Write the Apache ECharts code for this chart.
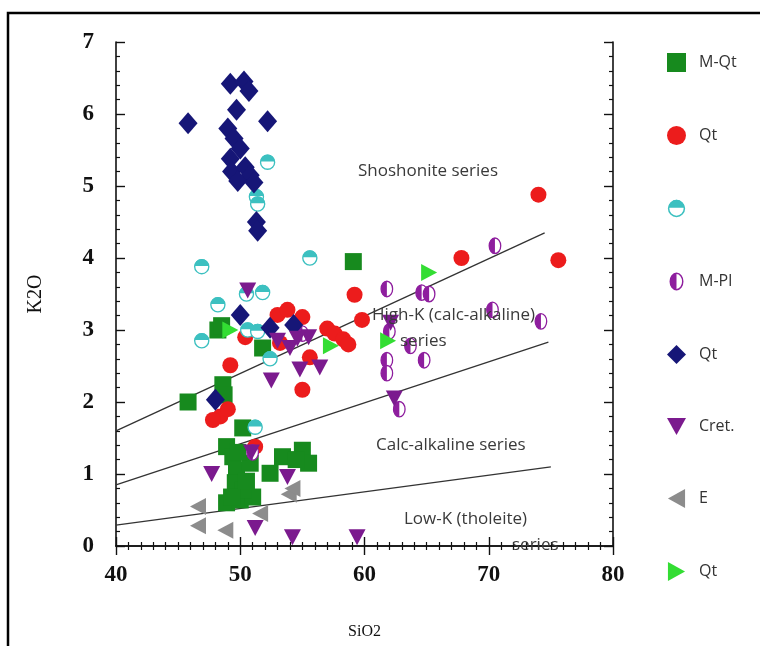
<!DOCTYPE html>
<html>
<head>
<meta charset="utf-8">
<script src="https://cdn.jsdelivr.net/npm/echarts@6/dist/echarts.min.js"></script>
<style>html,body{margin:0;padding:0;background:#fff}#c{width:760px;height:646px}</style>
</head>
<body>
<div id="c"></div>
<script>
// ---- data (SiO2, K2O) ----
const mQt = [[59.1,3.95],[48.2,3.0],[48.5,3.06],[51.8,2.75],[48.6,2.24],[48.7,2.1],[45.8,2.0],[50.2,1.64],[48.9,1.38],[49.4,1.24],[49.7,1.06],[49.6,0.88],[48.9,0.6],[50.0,0.64],[51.0,0.68],[50.2,0.78],[52.4,1.01],[53.4,1.24],[55.0,1.33],[55.5,1.15],[54.5,1.2],[50.8,1.15],[49.3,0.68],[49.8,1.3],[50.5,0.9]];
const qtRed = [[49.2,2.51],[50.4,2.9],[53.0,3.21],[53.8,3.28],[55.0,3.18],[53.2,2.82],[55.6,2.62],[55.0,2.17],[59.2,3.49],[59.8,3.14],[67.8,4.0],[74.0,4.88],[75.6,3.97],[57.0,3.02],[57.6,2.95],[58.3,2.87],[58.7,2.8],[48.4,1.8],[49.0,1.9],[47.8,1.75],[51.2,1.38]];
const cyanHalf = [[52.2,5.33],[51.3,4.85],[51.4,4.75],[46.9,3.88],[55.6,4.0],[48.2,3.35],[50.5,3.5],[51.8,3.52],[46.9,2.85],[50.6,3.0],[51.4,2.98],[52.4,2.6],[51.2,1.65]];
const mPl = [[61.8,3.57],[64.6,3.52],[65.2,3.5],[70.5,4.17],[70.3,3.28],[74.2,3.12],[62.0,2.98],[63.7,2.78],[64.8,2.58],[61.8,2.58],[61.8,2.4],[62.8,1.9],[55.0,2.95],[51.0,1.3]];
const qtDiamond = [[45.8,5.87],[49.2,6.42],[50.3,6.45],[50.7,6.32],[49.7,6.06],[52.2,5.9],[49.0,5.8],[49.5,5.66],[50.0,5.52],[49.2,5.38],[49.3,5.2],[50.4,5.26],[50.8,5.15],[49.8,5.07],[51.1,5.05],[51.3,4.5],[51.4,4.38],[50.0,3.21],[52.4,3.03],[54.3,3.07],[48.0,2.03]];
const cret = [[47.7,1.0],[51.2,0.25],[54.2,0.12],[59.4,0.12],[53.8,0.96],[52.5,2.3],[54.8,2.45],[56.4,2.48],[54.0,2.75],[53.0,2.85],[55.5,2.9],[54.6,2.88],[50.6,3.55],[62.1,3.1],[62.4,2.05],[50.9,1.3]];
const eSeries = [[46.6,0.55],[46.6,0.28],[48.8,0.22],[51.6,0.45],[53.9,0.72],[54.2,0.8]];
const qtGreenTri = [[49.2,3.0],[57.3,2.78],[65.2,3.8],[61.9,2.85]];

// boundary lines
const lineShoshonite = [[40,1.6],[74.5,4.35]];
const lineHighK = [[40,0.85],[74.8,2.83]];
const lineLowK = [[40,0.29],[75,1.1]];

const legendLabels = ['M-Qt','Qt','','M-Pl','Qt','Cret.','E','Qt'];
const seriesIds = ['s1','s2','s3','s4','s5','s6','s7','s8'];
const xTicks = {min:40, max:80, interval:10};
const yTicks = {min:0, max:7, interval:1};

// ---- symbols ----
const cyanSvg = "<svg xmlns='http://www.w3.org/2000/svg' width='20' height='20' viewBox='0 0 20 20'><circle cx='10' cy='10' r='8.3' fill='white' stroke='#3cc0c0' stroke-width='1.6'/><path d='M1.7 9.2 A8.3 8.3 0 0 1 18.3 9.2 Z' fill='#3cc0c0'/></svg>";
const mplSvg = "<svg xmlns='http://www.w3.org/2000/svg' width='16' height='20' viewBox='0 0 16 20'><ellipse cx='8' cy='10' rx='6.6' ry='8.6' fill='white' stroke='#8e1e9e' stroke-width='1.5'/><path d='M8 1.4 A6.6 8.6 0 0 0 8 18.6 Z' fill='#8e1e9e'/></svg>";
const img = s => 'image://data:image/svg+xml;charset=utf-8,' + encodeURIComponent(s);
const triDown = 'path://M0,0 L10,0 L5,9 Z';
const triLeft = 'path://M9,0 L9,10 L0,5 Z';
const triRight = 'path://M0,0 L0,10 L9,5 Z';

const chart = echarts.init(document.getElementById('c'));

const scatter = (id, data, symbol, size, color) => ({
  id: id, name: id, type: 'scatter', data: data, symbol: symbol, symbolSize: size,
  itemStyle: { color: color, opacity: 1 }, z: 3
});
const bline = (d) => ({
  type: 'line', data: d, symbol: 'none', lineStyle: { color: '#333', width: 1.3 },
  silent: true, z: 2, legendHoverLink: false
});

const axisLbl = { fontFamily: 'Liberation Serif', fontWeight: 'bold', fontSize: 23, color: '#111' };
const axLine = { show: true, lineStyle: { color: '#111', width: 1.6 } };

const txt = (x, y, t) => ({ type: 'text', left: x, top: y, z: 10,
  style: { text: t, font: '17px "Open Sans"', fill: '#3a3a3a' } });

chart.setOption({
  animation: false,
  backgroundColor: '#fff',
  grid: { left: 116, right: 147, top: 42, bottom: 100 },
  xAxis: [
    { type: 'value', min: xTicks.min, max: xTicks.max, interval: xTicks.interval, position: 'bottom',
      name: 'SiO2', nameLocation: 'middle', nameGap: 78,
      nameTextStyle: { fontFamily: 'Liberation Serif', fontSize: 16, color: '#111' },
      axisLine: axLine, axisTick: { inside: true, length: 9, lineStyle: { color: '#111', width: 1.4 } },
      minorTick: { show: true, splitNumber: 10, length: 4, lineStyle: { color: '#111', width: 1.2 } },
      splitLine: { show: false }, axisLabel: Object.assign({ margin: 18 }, axisLbl) },
    { type: 'value', min: xTicks.min, max: xTicks.max, interval: xTicks.interval, position: 'top',
      axisLine: axLine, axisTick: { inside: true, length: 9, lineStyle: { color: '#111', width: 1.4 } },
      minorTick: { show: true, splitNumber: 10, length: 4, lineStyle: { color: '#111', width: 1.2 } },
      splitLine: { show: false }, axisLabel: { show: false } }
  ],
  yAxis: [
    { type: 'value', min: yTicks.min, max: yTicks.max, interval: yTicks.interval, position: 'left',
      name: 'K2O', nameLocation: 'middle', nameGap: 70, nameRotate: 90,
      nameTextStyle: { fontFamily: 'Liberation Serif', fontSize: 20, color: '#111' },
      axisLine: axLine, axisTick: { inside: true, length: 9, lineStyle: { color: '#111', width: 1.4 } },
      minorTick: { show: true, splitNumber: 5, length: 4, lineStyle: { color: '#111', width: 1.2 } },
      splitLine: { show: false }, axisLabel: Object.assign({ margin: 22 }, axisLbl) },
    { type: 'value', min: yTicks.min, max: yTicks.max, interval: yTicks.interval, position: 'right',
      axisLine: axLine, axisTick: { inside: true, length: 9, lineStyle: { color: '#111', width: 1.4 } },
      minorTick: { show: true, splitNumber: 5, length: 4, lineStyle: { color: '#111', width: 1.2 } },
      splitLine: { show: false }, axisLabel: { show: false } }
  ],
  legend: {
    orient: 'vertical', left: 662, top: 48, itemWidth: 19, itemHeight: 19, itemGap: 54,
    data: seriesIds,
    formatter: n => legendLabels[seriesIds.indexOf(n)],
    textStyle: { fontFamily: 'Open Sans', fontSize: 16, color: '#333', padding: [0, 0, 0, 8] },
    selectedMode: false
  },
  graphic: [
    { type: 'rect', shape: { x: 8, y: 13, width: 820, height: 700 }, style: { fill: 'none', stroke: '#000', lineWidth: 2.5 }, z: 0, silent: true },
    txt(358, 163, 'Shoshonite series'),
    txt(372, 307, 'High-K (calc-alkaline)'),
    txt(400, 333, 'series'),
    txt(376, 437, 'Calc-alkaline series'),
    txt(404, 511, 'Low-K (tholeite)'),
    txt(512, 537, 'series')
  ],
  series: [
    bline(lineShoshonite), bline(lineHighK), bline(lineLowK),
    scatter('s1', mQt, 'rect', 17, '#178a1e'),
    scatter('s2', qtRed, 'circle', 16, '#ec1c1c'),
    scatter('s3', cyanHalf, img(cyanSvg), 17),
    scatter('s4', mPl, img(mplSvg), [14, 18]),
    scatter('s5', qtDiamond, 'diamond', [19, 22], '#161677'),
    scatter('s6', cret, triDown, [17, 16], '#7b1a8e'),
    scatter('s7', eSeries, triLeft, [16, 17], '#8c8c8c'),
    scatter('s8', qtGreenTri, triRight, [16, 17], '#33dd33')
  ]
});
</script>
</body>
</html>
